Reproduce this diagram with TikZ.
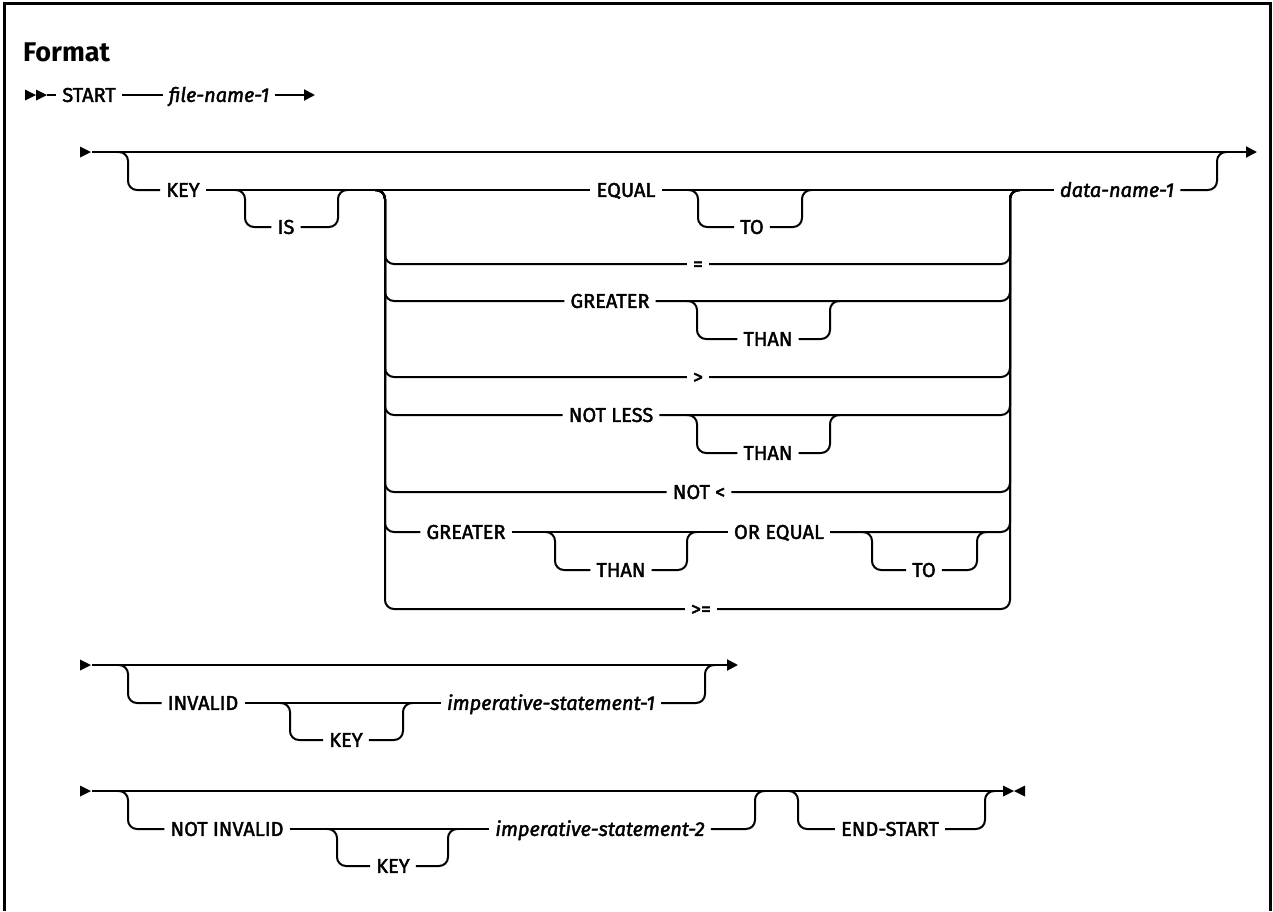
\documentclass[tikz,border=0pt]{standalone}
\usepackage{fontspec}
\setmainfont{Fira Sans}[UprightFeatures={RawFeature={embolden=2}}, ItalicFeatures={RawFeature={embolden=2}}]
\usetikzlibrary{arrows.meta}

\tikzset{
  rtri/.pic={\fill (0,-5.5) -- (11,0) -- (0,5.5) -- cycle;},
  ltri/.pic={\fill (11,-5.5) -- (0,0) -- (11,5.5) -- cycle;}
}

\begin{document}
\begin{tikzpicture}[x=1pt, y=-1pt,
    rail/.style={line width=2pt, rounded corners=9pt},
    go/.style={line width=2pt, -{Triangle[length=11pt, width=11pt]}},
    kw/.style={font=\fontsize{20}{24}\selectfont, inner xsep=6pt, inner ysep=0pt,
      text height=13.8pt, text depth=0pt},
    var/.style={kw, font=\fontsize{20}{24}\selectfont\itshape}]
  \useasboundingbox (0,0) rectangle (1273,911);
  \draw[line width=2.5pt] (4.5,911) -- (4.5,3.5) -- (1270.5,3.5) -- (1270.5,911);
  \node[anchor=west, inner sep=0pt, font=\fontsize{27}{31}\selectfont\bfseries] (fmt) at (23,52) {Format};

  \pic at (25,95) {rtri};
  \pic at (36,95) {rtri};
  \node[kw] (start) at (89,95) {START};
  \node[var] (fn) at (219,95) {file-name-1};
  \coordinate (s0) at (47,95);
  \coordinate (s1) at (315,95);
  \draw[rail] (s0) -- (start.west);
  \draw[rail] (start.east) -- (fn.west);
  \draw[go] (fn.east) -- (s1);

  \pic at (80,152) {rtri};
  \coordinate (a1) at (92,152);
  \coordinate (z1) at (1257,152);
  \coordinate (lb) at (385,190);
  \coordinate (rb) at (1010,190);
  \draw[go] (a1) -- (z1);
  \node[kw] (key) at (183,190) {KEY};
  \node[kw] (is) at (286,227) {IS};
  \node[kw] (eq) at (626,190) {EQUAL};
  \node[kw] (to1) at (752,227) {TO};
  \node[kw] (eqs) at (698,264) {=};
  \node[kw] (gt1) at (610,301) {GREATER};
  \node[kw] (th1) at (768,339) {THAN};
  \node[kw] (gts) at (698,377) {>};
  \node[kw] (nl) at (611,415) {NOT LESS};
  \node[kw] (th2) at (768,453) {THAN};
  \node[kw] (nls) at (699,492) {NOT <};
  \node[kw] (gt2) at (466,532) {GREATER};
  \node[kw] (th3) at (621,570) {THAN};
  \node[kw] (oe) at (779,532) {OR EQUAL};
  \node[kw] (to2) at (924,570) {TO};
  \node[kw] (ges) at (701,609) {>=};
  \node[var] (dn) at (1117,190) {data-name-1};
  \draw[rail] (118,152) -- (128,152) |- (key.west);
  \draw[rail] (key.east) -- (eq.west);
  \draw[rail] (eq.east) -- (dn.west);
  \draw[rail] (dn.east) -| (1217,152) -- (1227,152);
  \foreach \n in {eqs,gt1,gts,nl,nls,gt2,ges}
    \draw[rail] ([xshift=-10pt]lb) -- (lb) |- (\n.west);
  \foreach \n in {eqs,gt1,gts,nl,nls,oe,ges}
    \draw[rail] (\n.east) -| (rb) -- ([xshift=10pt]rb);
  \draw[rail] (gt2.east) -- (oe.west);

  \pic at (80,665) {rtri};
  \draw[go] (92,665) -- (738,665);
  \node[kw] (inv) at (203,703) {INVALID};
  \node[kw] (key2) at (346,740) {KEY};
  \node[var] (is1) at (551,703) {imperative-statement-1};
  \draw[rail] (118,665) -- (128,665) |- (inv.west);
  \draw[rail] (inv.east) -- (is1.west);
  \draw[rail] (is1.east) -| (705,665) -- (715,665);

  \pic at (80,791) {rtri};
  \draw[rail] (92,791) -- (1003,791);
  \pic at (1003,791) {rtri};
  \pic at (1014,791) {ltri};
  \node[kw] (nin) at (227,829) {NOT INVALID};
  \node[kw] (key3) at (393,866) {KEY};
  \node[var] (is2) at (600,829) {imperative-statement-2};
  \node[kw] (es) at (890,829) {END-START};
  \draw[rail] (118,791) -- (128,791) |- (nin.west);
  \draw[rail] (nin.east) -- (is2.west);
  \draw[rail] (is2.east) -| (755,791) -- (765,791);

  \foreach \d/\u/\y/\n in {245/338/190/is, 698/802/190/to1, 697/830/301/th1,
      697/830/415/th2, 555/687/532/th3, 872/977/532/to2, 290/403/703/key2,
      337/448/829/key3, 798/985/791/es} {
    \draw[rail] (\d-10,\y) -- (\d,\y) |- (\n.west);
    \draw[rail] (\n.east) -| (\u,\y) -- (\u+10,\y);
  }
\end{tikzpicture}
\end{document}
